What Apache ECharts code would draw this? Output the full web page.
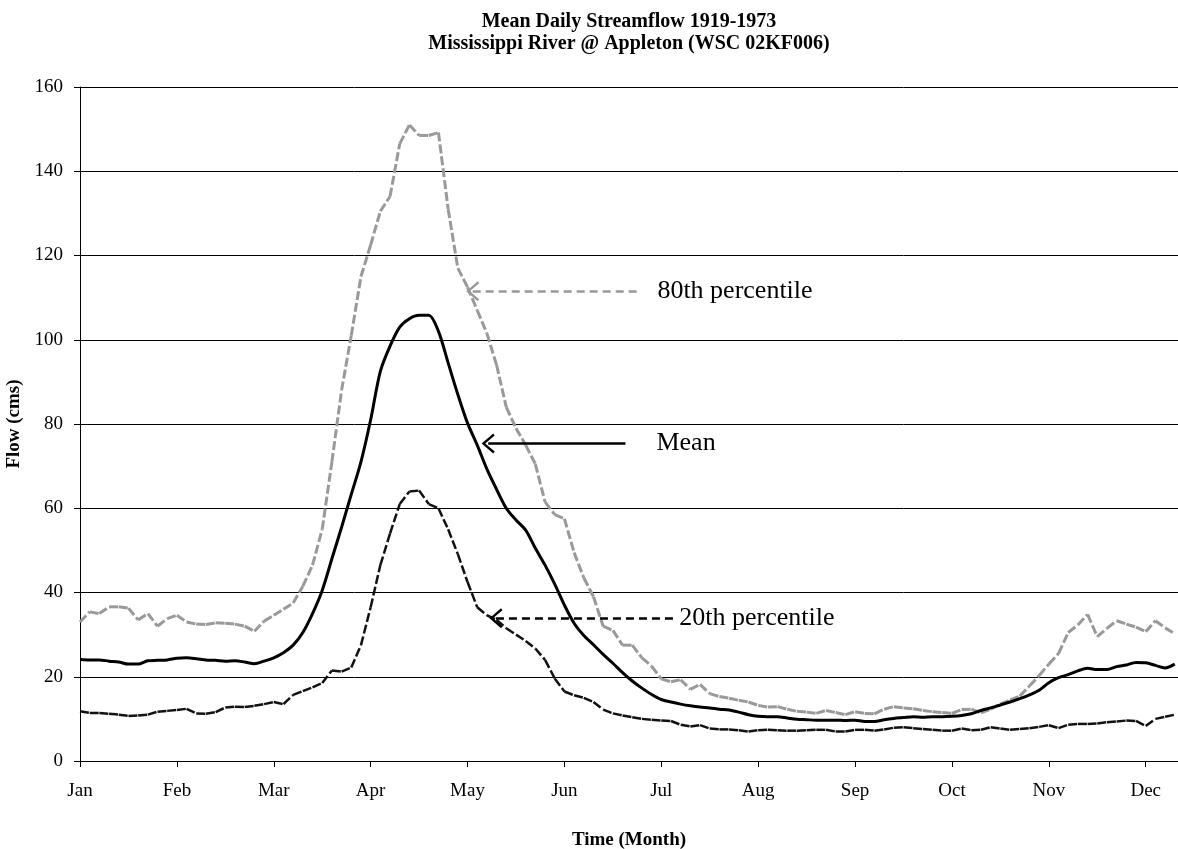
<!DOCTYPE html>
<html lang="en">
<head>
<meta charset="UTF-8">
<style>
    html,
    body {
        height: 100%;
        margin: 0;
        background: #fff;
    }
</style>
</head>
<body>
<div id="chart" style="width:1178px;height:849px;"></div>
<script src="https://cdn.jsdelivr.net/npm/echarts@6/dist/echarts.min.js"></script>
<script>
    // day of year (every 3rd day), month labels every 30 days
    var months = ['Jan', 'Feb', 'Mar', 'Apr', 'May', 'Jun', 'Jul', 'Aug', 'Sep', 'Oct', 'Nov', 'Dec'];
    var monthTicks = [0, 30, 60, 90, 120, 150, 180, 210, 240, 270, 300, 330];
    var days = [];
    for (var d = 0; d <= 339; d += 3) days.push(d);

    // 80th percentile flow (cms)
    var p80 = [
        33, 35.4, 35, 36.6, 36.6, 36.3, 33.5, 35, 32, 33.8,
        34.6, 33, 32.5, 32.4, 32.8, 32.7, 32.5, 32, 30.8, 33.2,
        34.6, 36, 37.5, 41.5, 46.5, 55, 71, 88, 101, 115,
        122.5, 130.5, 134, 146.5, 151, 148.5, 148.5, 149.2, 131, 117,
        112.5, 107, 101.5, 94, 84, 79, 75, 70.5, 61.5, 58.5,
        57.5, 49.5, 43.5, 39, 32, 31, 27.5, 27.5, 24.5, 22.5,
        19.5, 18.8, 19.3, 17, 18.2, 16, 15.3, 14.9, 14.4, 14,
        13.2, 12.8, 12.9, 12.3, 11.8, 11.6, 11.3, 12, 11.5, 11,
        11.7, 11.3, 11.2, 12.3, 12.9, 12.6, 12.4, 12, 11.7, 11.5,
        11.3, 12.2, 12.3, 11.4, 12.3, 13.5, 14.5, 15.4, 17.8, 20.3,
        23, 25.5, 30.5, 32.3, 34.8, 29.5, 31.5, 33.3, 32.5, 31.8,
        30.7, 33.3, 31.6, 30.2
    ];

    // mean flow (cms)
    var mean = [
        24.1, 24, 24, 23.7, 23.5, 23, 23, 23.8, 23.9, 24,
        24.4, 24.5, 24.3, 24, 23.9, 23.7, 23.8, 23.5, 23.1, 23.7,
        24.5, 25.7, 27.5, 30.5, 35, 40.5, 48, 55.5, 63.3, 71,
        81, 92.5, 98.5, 103, 105, 105.8, 105.8, 102, 94.5, 87,
        80.2, 75, 69.3, 64.5, 60, 57.2, 54.8, 50.5, 46.5, 42,
        37, 32.7, 29.8, 27.6, 25.3, 23.2, 21, 19, 17.3, 15.8,
        14.6, 14, 13.5, 13.1, 12.8, 12.6, 12.3, 12.1, 11.6, 11,
        10.6, 10.5, 10.5, 10.2, 9.9, 9.8, 9.7, 9.7, 9.7, 9.6,
        9.7, 9.4, 9.4, 9.8, 10.1, 10.3, 10.5, 10.4, 10.5, 10.5,
        10.6, 10.8, 11.2, 12, 12.6, 13.3, 14, 14.8, 15.7, 16.8,
        18.6, 19.8, 20.5, 21.4, 22, 21.7, 21.7, 22.4, 22.8, 23.4,
        23.3, 22.7, 22.1, 23
    ];

    // 20th percentile flow (cms)
    var p20 = [
        11.8, 11.4, 11.4, 11.2, 11, 10.7, 10.8, 11, 11.7, 11.9,
        12.1, 12.4, 11.3, 11.2, 11.6, 12.7, 12.9, 12.8, 13.1, 13.5,
        14, 13.5, 15.7, 16.6, 17.5, 18.5, 21.5, 21.2, 22.2, 27.5,
        36.5, 46.5, 54, 61, 64, 64.2, 61, 60, 55, 49.1,
        42.5, 36.5, 34.6, 33.5, 31.5, 30, 28.5, 26.7, 24, 19.6,
        16.5, 15.6, 15, 14, 12.2, 11.3, 10.8, 10.4, 10, 9.8,
        9.6, 9.5, 8.6, 8.2, 8.5, 7.7, 7.5, 7.5, 7.3, 7,
        7.3, 7.4, 7.3, 7.2, 7.2, 7.3, 7.4, 7.4, 7, 7,
        7.4, 7.4, 7.2, 7.5, 7.9, 8, 7.8, 7.6, 7.4, 7.2,
        7.2, 7.7, 7.3, 7.4, 8, 7.7, 7.4, 7.6, 7.8, 8.1,
        8.5, 7.8, 8.6, 8.8, 8.8, 8.9, 9.2, 9.4, 9.6, 9.5,
        8.3, 10, 10.5, 11
    ];

    var serif = 'Liberation Serif';
    var chevron = 'path://M10,0 L20,13 L18,14.6 L10,4 L2,14.6 L0,13 Z';

    // dashes restart on every segment, like the original spreadsheet plot
    function dashedSeries(name, vals, color, width, dash) {
        return {
            name: name,
            type: 'custom',
            coordinateSystem: 'cartesian2d',
            silent: true,
            encode: { x: 0, y: 1 },
            data: days.map(function (d, i) { return [d, vals[i]]; }),
            renderItem: function (params, api) {
                var i = params.dataIndex;
                if (i >= days.length - 1) return null;
                var a = api.coord([days[i], vals[i]]);
                var b = api.coord([days[i + 1], vals[i + 1]]);
                return {
                    type: 'line',
                    shape: { x1: a[0], y1: a[1], x2: b[0], y2: b[1] },
                    style: { stroke: color, lineWidth: width, lineDash: dash, fill: null }
                };
            }
        };
    }

    function note(text, y, x0, x1, color, type, gap) {
        return [
            {
                coord: [x0, y],
                symbol: chevron,
                lineStyle: { color: color, width: 2.5, type: type },
                label: {
                    show: true, position: 'end', formatter: text, distance: gap,
                    fontFamily: serif, fontSize: 26, color: '#000'
                }
            },
            { coord: [x1, y], symbol: 'none' }
        ];
    }

    var myChart = echarts.init(document.getElementById('chart'));
    myChart.setOption({
        animation: false,
        backgroundColor: '#fff',
        title: {
            text: 'Mean Daily Streamflow 1919-1973\nMississippi River @ Appleton (WSC 02KF006)',
            left: 629,
            top: 0,
            textAlign: 'center',
            padding: [11, 0, 0, 0],
            textStyle: {
                fontFamily: serif, fontWeight: 'bold', fontSize: 20,
                lineHeight: 22, color: '#000'
            }
        },
        grid: { left: 80, right: 0, top: 87, bottom: 88, outerBoundsMode: 'none' },
        xAxis: {
            type: 'value',
            min: 0,
            max: 340,
            interval: 30,
            name: 'Time (Month)',
            nameLocation: 'middle',
            nameGap: 70,
            nameTextStyle: { fontFamily: serif, fontWeight: 'bold', fontSize: 19, color: '#000' },
            axisLine: { lineStyle: { color: '#000', width: 1 } },
            axisTick: { length: 6, lineStyle: { color: '#000' }, customValues: monthTicks },
            axisLabel: {
                margin: 21, fontFamily: serif, fontSize: 19, color: '#000',
                customValues: monthTicks,
                formatter: function (v) { return v % 30 === 0 ? months[v / 30] : ''; }
            },
            splitLine: { show: false }
        },
        yAxis: {
            type: 'value',
            min: 0,
            max: 160,
            interval: 20,
            name: 'Flow (cms)',
            nameLocation: 'middle',
            nameGap: 54,
            nameTextStyle: { fontFamily: serif, fontWeight: 'bold', fontSize: 19, color: '#000' },
            axisLine: { show: true, lineStyle: { color: '#000', width: 1 } },
            axisTick: { show: true, length: 6, lineStyle: { color: '#000' } },
            axisLabel: { margin: 17, fontFamily: serif, fontSize: 19, color: '#000' },
            splitLine: { show: true, lineStyle: { color: '#000', width: 1 } }
        },
        series: [
            dashedSeries('80th percentile', p80, '#999999', 3, [9, 3]),
            dashedSeries('20th percentile', p20, '#111111', 2.5, [9, 3]),
            {
                name: 'Mean',
                type: 'line',
                showSymbol: false,
                silent: true,
                smooth: 0.3,
                data: days.map(function (d, i) { return [d, mean[i]]; }),
                lineStyle: { color: '#000', width: 3 },
                markLine: {
                    silent: true,
                    symbolSize: [20, 13],
                    data: [
                        note('80th percentile', 111.5, 121.6, 172.6, '#999999', [8, 5], 20),
                        note('Mean', 75.4, 126.4, 168.9, '#000', 'solid', 31),
                        note('20th percentile', 33.9, 128.8, 184, '#000', [8, 5], 5)
                    ]
                }
            }
        ]
    });
</script>
</body>
</html>
